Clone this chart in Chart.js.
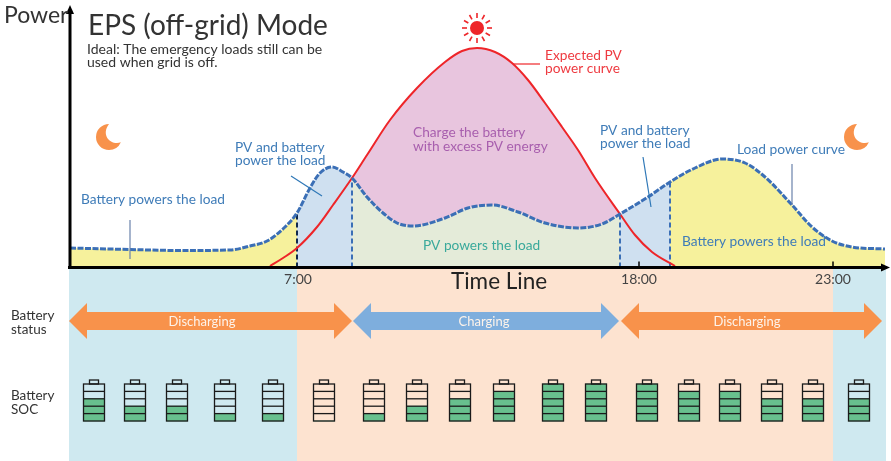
<!DOCTYPE html>
<html>
<head>
<meta charset="utf-8">
<title>EPS (off-grid) Mode</title>
<script src="https://cdn.jsdelivr.net/npm/chart.js@4/dist/chart.umd.min.js"></script>
<style>
  html, body { margin: 0; padding: 0; background: #fff; }
  canvas { display: block; }
</style>
</head>
<body>
<canvas id="epsChart" width="891" height="461"></canvas>
<script>
// time line position and power (arbitrary units, time line is not linear)
const loadTime = [1,61,111,161,181,198,216,228,241,251,263,274,283,298,314,328,344,376,399,423,449,476,509,533,551,579,601,626,653,676,696,723,743,763,783,816];
const loadPower = [19.5,18,17,17.5,21.5,26.5,40.5,54.5,79.5,94.5,100.5,95.5,89.5,70.5,54.5,44.5,41.5,49.5,59.5,62.5,55.5,44.5,39.5,43.5,53.5,70.5,85.5,99.5,108.5,104.5,90.5,62.5,40.5,26.5,20.5,18.5];
const pvTime = [201,214,228,248,264,283,298,321,348,376,393,408,426,443,459,476,493,509,526,551,566,583,606];
const pvPower = [1.5,9.5,19.5,40.5,62.5,89.5,112.5,147.5,179.5,205.5,216.5,219.5,215.5,204.5,187.5,164.5,140.5,117.5,89.5,53.5,32.5,15.5,1.5];

// where the power source changes
const phaseEdges = [228, 283, 551, 601];

const tickTimes = [229, 570, 764];
const tickLabels = ['7:00', '18:00', '23:00'];

const bandEdges = [0, 228, 764, 817];
const bandColors = ['#cfe9f0', '#fde3d0', '#cfe9f0'];

const statusNames = ['Discharging', 'Charging', 'Discharging'];
const statusFrom = [0, 284, 552];
const statusTo = [283, 550, 813];
const statusLabelAt = [133, 415, 678];
const statusColors = ['#f8924b', '#7eaedd', '#f8924b'];

// battery gauges: position on the time line and green segments out of 5
const socTime = [25,66,108,156,204,255,305,348,391,435,484,527,578,620,661,703,744,790];
const socLevel = [3,2,2,1,1,0,1,2,3,4,5,5,5,4,4,3,3,3];

const FONT = 'Lato, "Open Sans", sans-serif';
const SOC_BOTTOM = -153.5, SEG_H = 7.4, SOC_W = 21;

const pts = (xs, ys) => xs.map((x, i) => ({ x, y: ys[i] }));
const load = pts(loadTime, loadPower);
const pv = pts(pvTime, pvPower);
const between = (arr, a, b) => arr.filter(p => p.x >= a && p.x <= b);

function area(data, color, fill) {
    return { type: 'line', data, backgroundColor: color, borderWidth: 0, pointRadius: 0,
        cubicInterpolationMode: 'monotone', fill: fill || 'origin' };
}
function divider(x, color) {
    const top = load.find(p => p.x === x).y;
    return { type: 'line', data: [{ x, y: 0 }, { x, y: top }], borderColor: color, borderWidth: 2,
        borderDash: [5, 3], pointRadius: 0, fill: false };
}

const datasets = [
    { type: 'line', label: 'Load power curve', data: load, borderColor: '#3b6fb6', borderWidth: 3, borderDash: [6, 1.5],
      pointRadius: 0, cubicInterpolationMode: 'monotone', fill: false },
    { type: 'line', label: 'Expected PV power curve', data: pv, borderColor: '#ee2529', borderWidth: 2,
      pointRadius: 0, cubicInterpolationMode: 'monotone', fill: false },
    divider(phaseEdges[0], '#10294d'),
    divider(phaseEdges[1], '#3b6fb6'),
    divider(phaseEdges[2], '#3b6fb6'),
    divider(phaseEdges[3], '#3b6fb6'),
    area(between(load, 0, phaseEdges[0]), '#f6f19c'),
    area(between(load, phaseEdges[0], phaseEdges[1]), '#cfe0f0'),
    area(between(load, phaseEdges[1], phaseEdges[2]), '#e4ebd9'),     // index 8
    area(between(load, phaseEdges[2], phaseEdges[3]), '#cfe0f0'),
    area(between(load, phaseEdges[3], 900), '#f6f19c'),
    area(between(pv, phaseEdges[1], phaseEdges[2]), '#e8c5de', { target: 8 }),
    { type: 'bar', label: 'Battery SOC',
      data: socTime.map((x, i) => ({ x, y: [SOC_BOTTOM, SOC_BOTTOM + socLevel[i] * SEG_H] })),
      backgroundColor: '#68c08e', barThickness: SOC_W, grouped: false, order: 5 }
];

function text(ctx, str, x, y, font, color, align) {
    ctx.font = font + ' ' + FONT;
    ctx.fillStyle = color;
    ctx.textAlign = align || 'left';
    ctx.textBaseline = 'alphabetic';
    ctx.fillText(str, x, y);
}
function leader(ctx, x1, y1, x2, y2, color) {
    ctx.strokeStyle = color;
    ctx.lineWidth = 1.2;
    ctx.beginPath(); ctx.moveTo(x1, y1); ctx.lineTo(x2, y2); ctx.stroke();
}
function moon(ctx, cx, cy) {
    ctx.fillStyle = '#f8924b';
    ctx.beginPath();
    ctx.arc(cx, cy, 13, -Math.PI / 2, 0.42, true);
    ctx.bezierCurveTo(cx + 3, cy + 9, cx - 9, cy - 1, cx, cy - 13);
    ctx.closePath();
    ctx.fill();
}
function sun(ctx, cx, cy) {
    ctx.fillStyle = ctx.strokeStyle = '#ee2529';
    ctx.beginPath(); ctx.arc(cx, cy, 7, 0, Math.PI * 2); ctx.fill();
    ctx.lineWidth = 1.6;
    for (let i = 0; i < 12; i++) {
        const a = i * Math.PI / 6;
        ctx.beginPath();
        ctx.moveTo(cx + Math.cos(a) * 10, cy + Math.sin(a) * 10);
        ctx.lineTo(cx + Math.cos(a) * 15, cy + Math.sin(a) * 15);
        ctx.stroke();
    }
}

// light bands behind the lower part
const backdrop = {
    id: 'backdrop',
    beforeDatasetsDraw(chart) {
        const { ctx, scales: { x, y } } = chart;
        bandColors.forEach((c, i) => {
            ctx.fillStyle = c;
            const l = x.getPixelForValue(bandEdges[i]), r = x.getPixelForValue(bandEdges[i + 1]);
            ctx.fillRect(l, y.getPixelForValue(0), r - l, chart.height - y.getPixelForValue(0));
        });
    }
};

// arrows, gauges, axis arrows, icons and captions
const overlay = {
    id: 'overlay',
    afterDraw(chart) {
        const { ctx, scales: { x, y } } = chart;
        ctx.save();

        // y axis and arrow heads
        const ax = x.getPixelForValue(1), ay = y.getPixelForValue(0);
        ctx.strokeStyle = ctx.fillStyle = '#000';
        ctx.lineWidth = 3;
        ctx.beginPath(); ctx.moveTo(ax, ay + 1); ctx.lineTo(ax, 12); ctx.stroke();
        ctx.beginPath(); ctx.moveTo(ax, 5); ctx.lineTo(ax - 4, 14); ctx.lineTo(ax + 4, 14); ctx.closePath(); ctx.fill();
        ctx.beginPath(); ctx.moveTo(890, ay); ctx.lineTo(881, ay - 4); ctx.lineTo(881, ay + 4); ctx.closePath(); ctx.fill();
        ctx.lineWidth = 1.5;
        tickTimes.slice(1).forEach(t => {
            const px = x.getPixelForValue(t);
            ctx.beginPath(); ctx.moveTo(px, ay); ctx.lineTo(px, ay - 6); ctx.stroke();
        });

        // battery status arrows
        statusNames.forEach((name, i) => {
            const l = x.getPixelForValue(statusFrom[i]), r = x.getPixelForValue(statusTo[i]);
            const cy = 321, sh = 9, hh = 18, hl = 18;
            ctx.fillStyle = statusColors[i];
            ctx.beginPath();
            ctx.moveTo(l, cy);
            ctx.lineTo(l + hl, cy - hh); ctx.lineTo(l + hl, cy - sh);
            ctx.lineTo(r - hl, cy - sh); ctx.lineTo(r - hl, cy - hh);
            ctx.lineTo(r, cy);
            ctx.lineTo(r - hl, cy + hh); ctx.lineTo(r - hl, cy + sh);
            ctx.lineTo(l + hl, cy + sh); ctx.lineTo(l + hl, cy + hh);
            ctx.closePath();
            ctx.fill();
            text(ctx, name, x.getPixelForValue(statusLabelAt[i]), 326, '13px', '#fdf3ea', 'center');
        });

        // battery outlines over the green bars
        ctx.strokeStyle = '#1a1a1a';
        socTime.forEach(t => {
            const px = x.getPixelForValue(t), b = y.getPixelForValue(SOC_BOTTOM);
            const h = SEG_H * 5, left = px - SOC_W / 2;
            ctx.lineWidth = 1.3;
            ctx.strokeRect(left, b - h, SOC_W, h);
            ctx.strokeRect(px - 4.5, b - h - 4, 9, 4);
            for (let s = 1; s < 5; s++) {
                ctx.beginPath();
                ctx.moveTo(left, b - s * SEG_H);
                ctx.lineTo(left + SOC_W, b - s * SEG_H);
                ctx.stroke();
            }
        });

        sun(ctx, 477, 28);
        moon(ctx, 109, 137);
        moon(ctx, 857, 137);

        leader(ctx, 130, 220, 130, 259, '#6a82ab');
        leader(ctx, 291, 176, 322, 196, '#2f78b7');
        leader(ctx, 513, 64, 540, 64, '#ee2529');
        leader(ctx, 643, 157, 651, 207, '#2f78b7');
        leader(ctx, 792, 164, 792, 205, '#6a82ab');

        const blue = '#3f7cb8', dark = '#333';
        text(ctx, 'Power', 4, 23, '23px', dark);
        text(ctx, 'EPS (off-grid) Mode', 88, 35, '28px', dark);
        text(ctx, 'Ideal: The emergency loads still can be', 87, 54, '14px', dark);
        text(ctx, 'used when grid is off.', 87, 67, '14px', dark);
        text(ctx, 'Battery powers the load', 81, 204, '13.7px', blue);
        text(ctx, 'PV and battery', 235, 152, '13.7px', blue);
        text(ctx, 'power the load', 235, 165, '13.7px', blue);
        text(ctx, 'Charge the battery', 413, 137, '13.7px', '#a85fae');
        text(ctx, 'with excess PV energy', 413, 151, '13.7px', '#a85fae');
        text(ctx, 'PV powers the load', 423, 250, '13.7px', '#3aa99b');
        text(ctx, 'Expected PV', 545, 60, '13.7px', '#ee3a40');
        text(ctx, 'power curve', 545, 73, '13.7px', '#ee3a40');
        text(ctx, 'PV and battery', 600, 135, '13.7px', blue);
        text(ctx, 'power the load', 600, 148, '13.7px', blue);
        text(ctx, 'Load power curve', 737, 154, '13.8px', blue);
        text(ctx, 'Battery powers the load', 682, 246, '13.7px', blue);
        text(ctx, 'Time Line', 451, 289, '22.5px', '#222');
        text(ctx, 'Battery', 11, 320, '13.5px', dark);
        text(ctx, 'status', 11, 334, '13.5px', dark);
        text(ctx, 'Battery', 11, 400, '13.5px', dark);
        text(ctx, 'SOC', 11, 414, '13.5px', dark);

        ctx.restore();
    }
};

new Chart(document.getElementById('epsChart'), {
    type: 'line',
    data: { datasets },
    options: {
        responsive: false,
        animation: false,
        layout: { padding: { left: 69, right: 5, top: 0, bottom: 0 } },
        plugins: { legend: { display: false }, tooltip: { enabled: false }, title: { display: false } },
        scales: {
            x: {
                type: 'linear',
                position: { y: 0 },
                min: 0,
                max: 817,
                offset: false,
                border: { color: '#000', width: 3, z: 1 },
                grid: { drawOnChartArea: false, drawTicks: false, offset: false },
                afterBuildTicks: scale => { scale.ticks = tickTimes.map(value => ({ value })); },
                ticks: {
                    z: 1,
                    autoSkip: false,
                    maxRotation: 0,
                    padding: 4,
                    color: '#444',
                    font: { family: FONT, size: 14 },
                    callback: (value, i) => tickLabels[i]
                }
            },
            y: {
                type: 'linear',
                display: false,
                min: -193.5,
                max: 267.5
            }
        }
    },
    plugins: [backdrop, overlay]
});
</script>
</body>
</html>
